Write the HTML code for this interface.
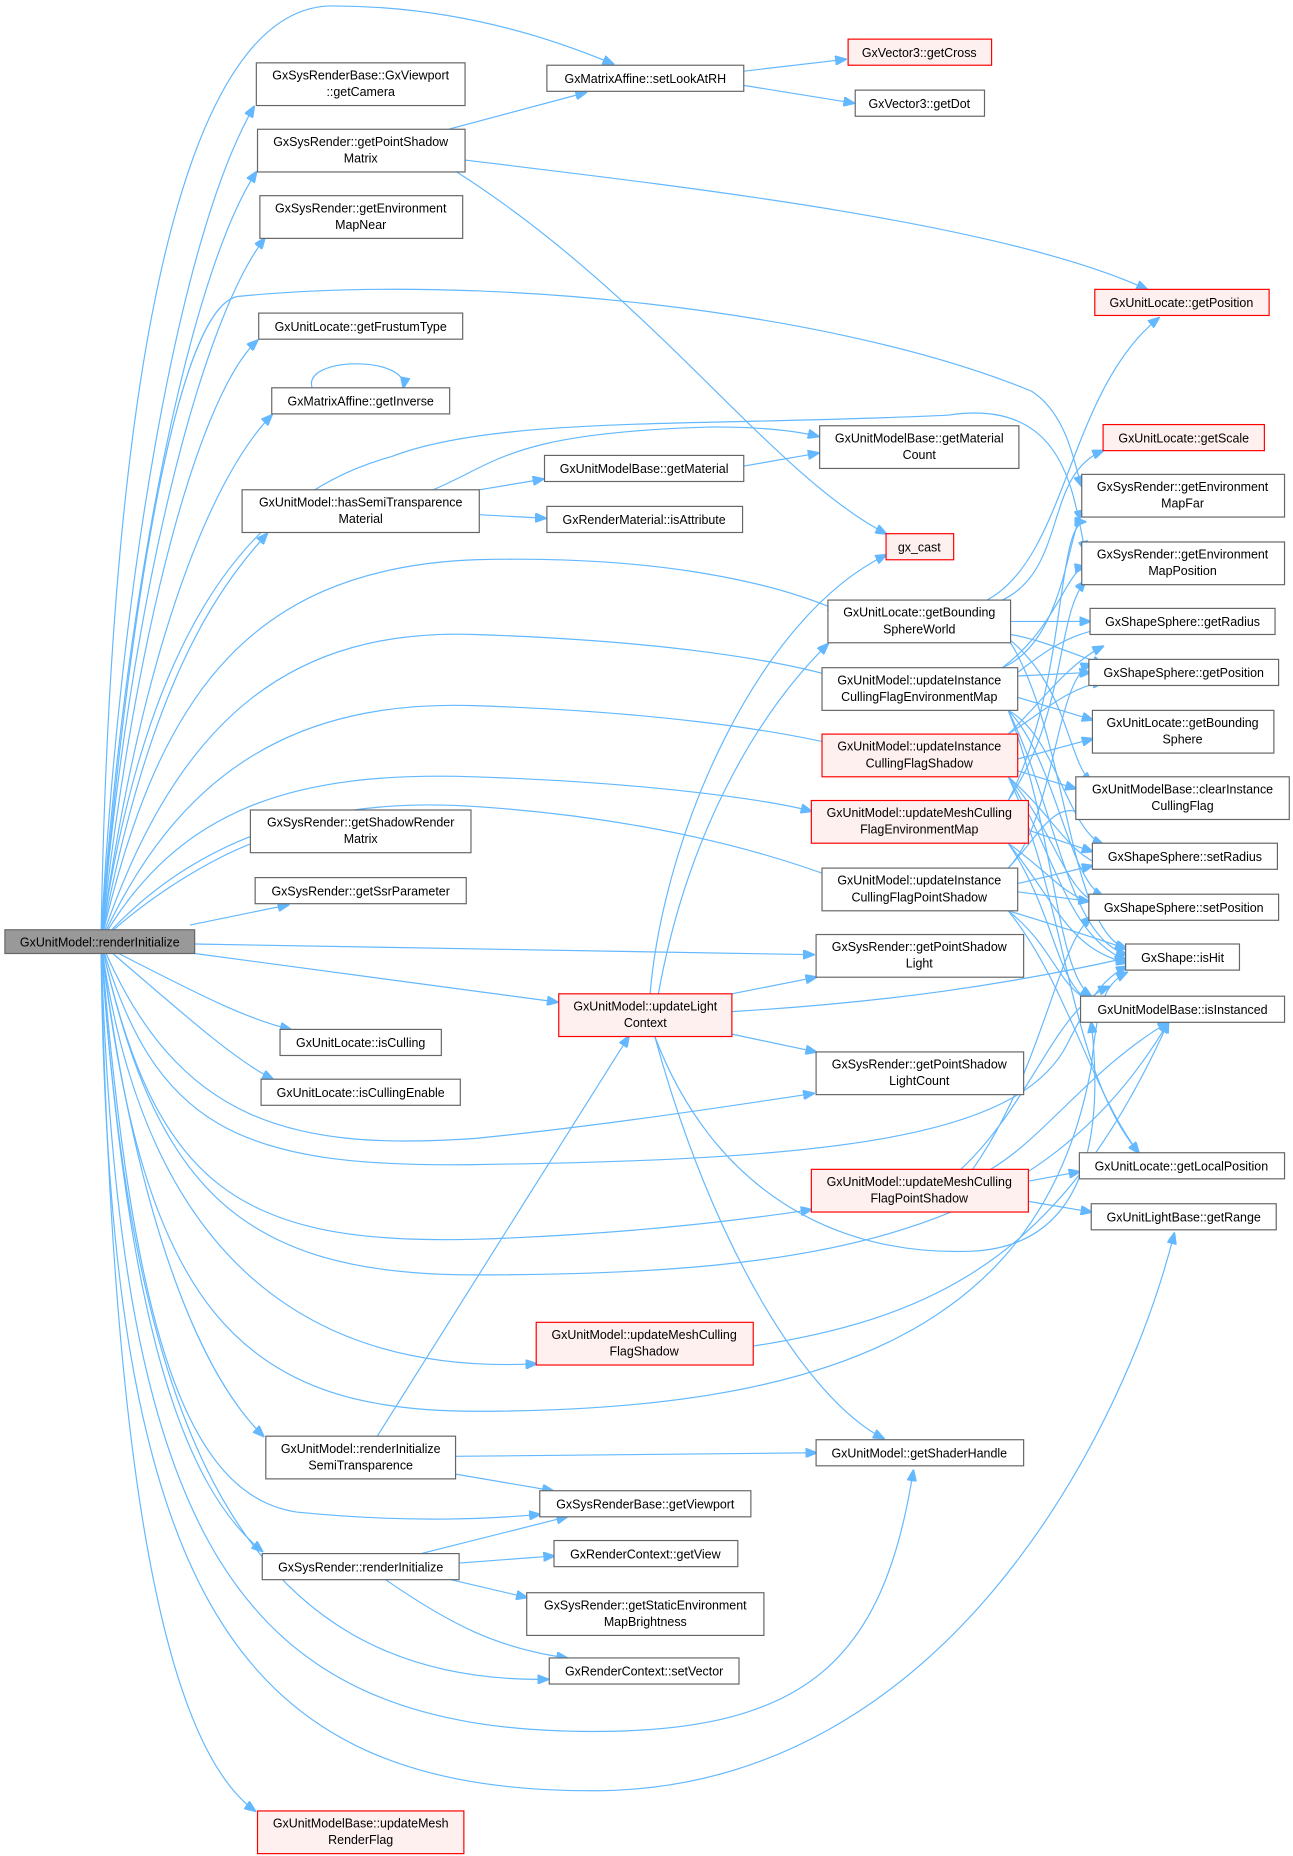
<!DOCTYPE html>
<html><head><meta charset="utf-8">
<style>
html,body{margin:0;padding:0;background:#fff;}
svg{display:block;}
text{font-family:"Liberation Sans",sans-serif;font-size:10.5px;fill:#000;text-anchor:middle;}
.n{fill:#fff;stroke:#666;stroke-width:1;}
.r{fill:#fff0f0;stroke:#f00;stroke-width:1;}
.g{fill:#999;stroke:#666;stroke-width:1;}
.e{fill:none;stroke:#63b8ff;stroke-width:1;marker-end:url(#a);}
</style></head><body>
<svg width="1293" height="1856" viewBox="0 0 1090 1565" xmlns="http://www.w3.org/2000/svg">
<defs><marker id="a" markerWidth="10" markerHeight="8" refX="9" refY="4" orient="auto" markerUnits="userSpaceOnUse"><path d="M0,0 L10,4 L0,8 z" fill="#63b8ff" stroke="#63b8ff"/></marker></defs>
<g>
<!-- root edges -->
<path class="e" d="M85,794 C100,500 150,200 214,90"/>
<path class="e" d="M85,794 C105,500 160,230 216,145"/>
<path class="e" d="M85,794 C110,500 170,270 223,201"/>
<path class="e" d="M85,794 C115,520 170,330 217,287"/>
<path class="e" d="M85,794 C120,540 180,400 229,350"/>
<path class="e" d="M85,794 C125,580 180,500 225,450"/>
<path class="e" d="M85,794 C95,200 180,5 280,5 C380,5 460,30 517,54"/>
<path class="e" d="M85,794 C110,500 150,260 200,250 C400,230 700,260 870,330 C900,350 905,390 912,410"/>
<path class="e" d="M85,794 C120,550 200,420 330,385 C420,350 600,360 800,350 C900,335 905,420 915,465"/>
<path class="e" d="M365,413 C420,390 430,365 600,360 C640,360 670,363 690,368"/>
<path class="e" d="M85,794 C130,600 200,480 400,472 C550,468 650,490 707,515"/>
<path class="e" d="M85,794 C150,600 250,530 400,535 C550,540 650,555 705,571"/>
<path class="e" d="M85,794 C150,650 250,590 400,595 C550,600 650,615 705,628"/>
<path class="e" d="M85,794 C150,680 250,650 400,655 C550,660 650,675 684,684"/>
<path class="e" d="M85,794 C150,720 250,670 400,680 C550,690 650,720 703,740"/>
<path class="e" d="M85,794 C120,760 180,720 230,705"/>
<path class="e" d="M160,780 L243,763"/>
<path class="e" d="M164,796 L686,805"/>
<path class="e" d="M164,804 L470,845"/>
<path class="e" d="M100,804 C170,840 210,860 245,868"/>
<path class="e" d="M95,804 C160,860 200,895 230,910"/>
<path class="e" d="M85,794 C150,950 250,970 400,960 C500,950 600,935 686,922"/>
<path class="e" d="M85,794 C130,950 200,985 400,982 C700,978 860,960 900,880 C920,840 930,825 950,815"/>
<path class="e" d="M85,794 C130,1000 200,1050 400,1045 C550,1040 650,1025 684,1020"/>
<path class="e" d="M85,794 C130,1000 200,1075 400,1075 C700,1075 880,1040 985,862"/>
<path class="e" d="M85,794 C120,1050 250,1160 452,1150"/>
<path class="e" d="M85,794 C120,1100 200,1190 400,1190 C700,1190 880,1120 920,900 C925,850 930,830 950,820"/>
<path class="e" d="M85,794 C110,1000 160,1150 222,1211"/>
<path class="e" d="M85,794 C110,1100 150,1260 250,1275 C350,1285 420,1280 455,1277"/>
<path class="e" d="M85,794 C105,1100 150,1250 221,1308"/>
<path class="e" d="M85,794 C110,1200 200,1420 462,1416"/>
<path class="e" d="M85,794 C100,1300 200,1460 500,1460 C680,1460 745,1400 770,1240"/>
<path class="e" d="M85,794 C90,1350 200,1510 500,1510 C800,1510 950,1200 990,1040"/>
<path class="e" d="M85,794 C95,1300 150,1480 215,1527"/>
<!-- others -->
<path class="e" d="M378,109 L494,78"/>
<path class="e" d="M392,135 C600,160 850,190 967,244"/>
<path class="e" d="M385,145 C550,250 650,400 747,450"/>
<path class="e" d="M627,60 L713,50"/>
<path class="e" d="M627,72 L720,87"/>
<path class="e" d="M263,327 C255,300 345,300 340,327"/>
<path class="e" d="M404,413 L458,404"/>
<path class="e" d="M404,434 L460,437"/>
<path class="e" d="M627,393 L690,382"/>
<path class="e" d="M548,838 C560,700 640,520 747,468"/>
<path class="e" d="M555,838 C580,700 640,600 698,543"/>
<path class="e" d="M617,838 L688,824"/>
<path class="e" d="M617,853 C750,845 850,830 949,808"/>
<path class="e" d="M617,872 L688,887"/>
<path class="e" d="M552,874 C600,1050 680,1180 745,1213"/>
<path class="e" d="M552,874 C600,1000 700,1060 820,1055 C920,1050 930,950 920,862"/>
<path class="e" d="M318,1211 L530,874"/>
<path class="e" d="M384,1228 L688,1225"/>
<path class="e" d="M384,1243 L466,1257"/>
<path class="e" d="M355,1310 L478,1279"/>
<path class="e" d="M387,1318 L467,1312"/>
<path class="e" d="M380,1332 L444,1347"/>
<path class="e" d="M325,1332 C380,1370 420,1390 478,1398"/>
<path class="e" d="M635,1135 C800,1110 900,1050 985,862"/>
<path class="e" d="M832,506 C900,470 900,330 977,268"/>
<path class="e" d="M845,506 C900,480 880,400 930,380"/>
<!-- middle to right fan -->
<path class="e" d="M852,524 L919,524"/>
<path class="e" d="M852,535 C880,540 900,550 930,560"/>
<path class="e" d="M852,540 C900,580 900,640 920,660"/>
<path class="e" d="M852,542 C900,620 900,780 949,800"/>
<path class="e" d="M858,570 L919,567"/>
<path class="e" d="M845,563 C900,540 900,440 915,430"/>
<path class="e" d="M845,563 C890,530 900,480 915,478"/>
<path class="e" d="M858,567 C880,550 900,535 930,530"/>
<path class="e" d="M858,588 L921,607"/>
<path class="e" d="M850,599 C890,620 900,700 930,712"/>
<path class="e" d="M850,599 C890,640 900,740 930,756"/>
<path class="e" d="M850,599 C890,680 900,790 950,805"/>
<path class="e" d="M850,599 C890,700 890,820 920,840"/>
<path class="e" d="M858,640 L921,623"/>
<path class="e" d="M850,619 C880,590 900,560 930,545"/>
<path class="e" d="M850,619 C880,600 900,580 930,575"/>
<path class="e" d="M858,650 L907,665"/>
<path class="e" d="M850,655 C890,690 900,720 930,730"/>
<path class="e" d="M850,655 C890,700 900,760 930,762"/>
<path class="e" d="M850,655 C890,720 900,790 950,810"/>
<path class="e" d="M850,655 C900,760 900,900 960,972"/>
<path class="e" d="M867,700 L921,718"/>
<path class="e" d="M850,675 C900,600 890,520 915,490"/>
<path class="e" d="M850,675 C900,580 890,440 915,440"/>
<path class="e" d="M850,711 C890,740 900,760 930,762"/>
<path class="e" d="M850,711 C890,760 900,800 950,812"/>
<path class="e" d="M850,711 C890,770 890,830 920,845"/>
<path class="e" d="M858,745 L921,730"/>
<path class="e" d="M858,752 L918,760"/>
<path class="e" d="M850,732 C880,700 890,670 920,690"/>
<path class="e" d="M850,732 C890,690 890,570 920,560"/>
<path class="e" d="M850,768 C890,780 920,790 950,800"/>
<path class="e" d="M850,768 C890,800 890,830 920,845"/>
<path class="e" d="M850,768 C900,830 920,920 960,972"/>
<path class="e" d="M867,996 L910,988"/>
<path class="e" d="M867,1013 L920,1022"/>
<path class="e" d="M810,986 C870,930 890,850 935,832"/>
<path class="e" d="M820,986 C880,900 890,800 920,773"/>
<path class="e" d="M835,986 C880,960 920,900 985,862"/>
</g>
<!-- nodes -->
<g>
<rect class="g" x="4" y="784" width="160" height="20"/><text x="84" y="798">GxUnitModel::renderInitialize</text>
<rect class="n" x="216" y="53" width="176" height="36"/><text x="304" y="67">GxSysRenderBase::GxViewport</text><text x="304" y="81">::getCamera</text>
<rect class="n" x="217" y="109" width="175" height="36"/><text x="304" y="123">GxSysRender::getPointShadow</text><text x="304" y="137">Matrix</text>
<rect class="n" x="219" y="165" width="171" height="36"/><text x="304" y="179">GxSysRender::getEnvironment</text><text x="304" y="193">MapNear</text>
<rect class="n" x="218" y="264" width="172" height="22"/><text x="304" y="279">GxUnitLocate::getFrustumType</text>
<rect class="n" x="229" y="327" width="150" height="22"/><text x="304" y="342">GxMatrixAffine::getInverse</text>
<rect class="n" x="204" y="413" width="200" height="36"/><text x="304" y="427">GxUnitModel::hasSemiTransparence</text><text x="304" y="441">Material</text>
<rect class="n" x="211" y="683" width="186" height="36"/><text x="304" y="697">GxSysRender::getShadowRender</text><text x="304" y="711">Matrix</text>
<rect class="n" x="215" y="740" width="178" height="22"/><text x="304" y="755">GxSysRender::getSsrParameter</text>
<rect class="n" x="236" y="868" width="136" height="22"/><text x="304" y="883">GxUnitLocate::isCulling</text>
<rect class="n" x="220" y="910" width="168" height="22"/><text x="304" y="925">GxUnitLocate::isCullingEnable</text>
<rect class="n" x="224" y="1211" width="160" height="36"/><text x="304" y="1225">GxUnitModel::renderInitialize</text><text x="304" y="1239">SemiTransparence</text>
<rect class="n" x="221" y="1310" width="166" height="22"/><text x="304" y="1325">GxSysRender::renderInitialize</text>
<rect class="r" x="217" y="1527" width="174" height="36"/><text x="304" y="1541">GxUnitModelBase::updateMesh</text><text x="304" y="1555">RenderFlag</text>
<rect class="n" x="461" y="55" width="166" height="22"/><text x="544" y="70">GxMatrixAffine::setLookAtRH</text>
<rect class="n" x="459" y="384" width="168" height="22"/><text x="543" y="399">GxUnitModelBase::getMaterial</text>
<rect class="n" x="461" y="427" width="165" height="22"/><text x="543" y="442">GxRenderMaterial::isAttribute</text>
<rect class="r" x="452" y="1115" width="183" height="36"/><text x="543" y="1129">GxUnitModel::updateMeshCulling</text><text x="543" y="1143">FlagShadow</text>
<rect class="r" x="471" y="838" width="146" height="36"/><text x="544" y="852">GxUnitModel::updateLight</text><text x="544" y="866">Context</text>
<rect class="n" x="455" y="1257" width="178" height="22"/><text x="544" y="1272">GxSysRenderBase::getViewport</text>
<rect class="n" x="467" y="1299" width="155" height="22"/><text x="544" y="1314">GxRenderContext::getView</text>
<rect class="n" x="444" y="1343" width="200" height="36"/><text x="544" y="1357">GxSysRender::getStaticEnvironment</text><text x="544" y="1371">MapBrightness</text>
<rect class="n" x="463" y="1398" width="160" height="22"/><text x="543" y="1413">GxRenderContext::setVector</text>
<rect class="r" x="715" y="33" width="121" height="22"/><text x="775" y="48">GxVector3::getCross</text>
<rect class="n" x="721" y="76" width="109" height="22"/><text x="775" y="91">GxVector3::getDot</text>
<rect class="n" x="691" y="359" width="168" height="36"/><text x="775" y="373">GxUnitModelBase::getMaterial</text><text x="775" y="387">Count</text>
<rect class="r" x="747" y="450" width="57" height="22"/><text x="775" y="465">gx_cast</text>
<rect class="n" x="698" y="506" width="154" height="36"/><text x="775" y="520">GxUnitLocate::getBounding</text><text x="775" y="534">SphereWorld</text>
<rect class="n" x="693" y="563" width="165" height="36"/><text x="775" y="577">GxUnitModel::updateInstance</text><text x="775" y="591">CullingFlagEnvironmentMap</text>
<rect class="r" x="693" y="619" width="165" height="36"/><text x="775" y="633">GxUnitModel::updateInstance</text><text x="775" y="647">CullingFlagShadow</text>
<rect class="r" x="684" y="675" width="183" height="36"/><text x="775" y="689">GxUnitModel::updateMeshCulling</text><text x="775" y="703">FlagEnvironmentMap</text>
<rect class="n" x="693" y="732" width="165" height="36"/><text x="775" y="746">GxUnitModel::updateInstance</text><text x="775" y="760">CullingFlagPointShadow</text>
<rect class="n" x="688" y="788" width="175" height="36"/><text x="775" y="802">GxSysRender::getPointShadow</text><text x="775" y="816">Light</text>
<rect class="n" x="688" y="887" width="175" height="36"/><text x="775" y="901">GxSysRender::getPointShadow</text><text x="775" y="915">LightCount</text>
<rect class="r" x="684" y="986" width="183" height="36"/><text x="775" y="1000">GxUnitModel::updateMeshCulling</text><text x="775" y="1014">FlagPointShadow</text>
<rect class="n" x="688" y="1214" width="175" height="22"/><text x="775" y="1229">GxUnitModel::getShaderHandle</text>
<rect class="r" x="923" y="244" width="147" height="22"/><text x="996" y="259">GxUnitLocate::getPosition</text>
<rect class="r" x="930" y="358" width="136" height="22"/><text x="998" y="373">GxUnitLocate::getScale</text>
<rect class="n" x="912" y="400" width="171" height="36"/><text x="997" y="414">GxSysRender::getEnvironment</text><text x="997" y="428">MapFar</text>
<rect class="n" x="912" y="457" width="171" height="36"/><text x="997" y="471">GxSysRender::getEnvironment</text><text x="997" y="485">MapPosition</text>
<rect class="n" x="919" y="513" width="156" height="22"/><text x="997" y="528">GxShapeSphere::getRadius</text>
<rect class="n" x="918" y="556" width="160" height="22"/><text x="998" y="571">GxShapeSphere::getPosition</text>
<rect class="n" x="921" y="599" width="153" height="36"/><text x="997" y="613">GxUnitLocate::getBounding</text><text x="997" y="627">Sphere</text>
<rect class="n" x="907" y="655" width="180" height="36"/><text x="997" y="669">GxUnitModelBase::clearInstance</text><text x="997" y="683">CullingFlag</text>
<rect class="n" x="921" y="711" width="156" height="22"/><text x="999" y="726">GxShapeSphere::setRadius</text>
<rect class="n" x="918" y="754" width="160" height="22"/><text x="998" y="769">GxShapeSphere::setPosition</text>
<rect class="n" x="949" y="796" width="96" height="22"/><text x="997" y="811">GxShape::isHit</text>
<rect class="n" x="911" y="840" width="172" height="22"/><text x="997" y="855">GxUnitModelBase::isInstanced</text>
<rect class="n" x="910" y="972" width="173" height="22"/><text x="996" y="987">GxUnitLocate::getLocalPosition</text>
<rect class="n" x="920" y="1015" width="156" height="22"/><text x="998" y="1030">GxUnitLightBase::getRange</text>
</g>
</svg>
</body></html>
